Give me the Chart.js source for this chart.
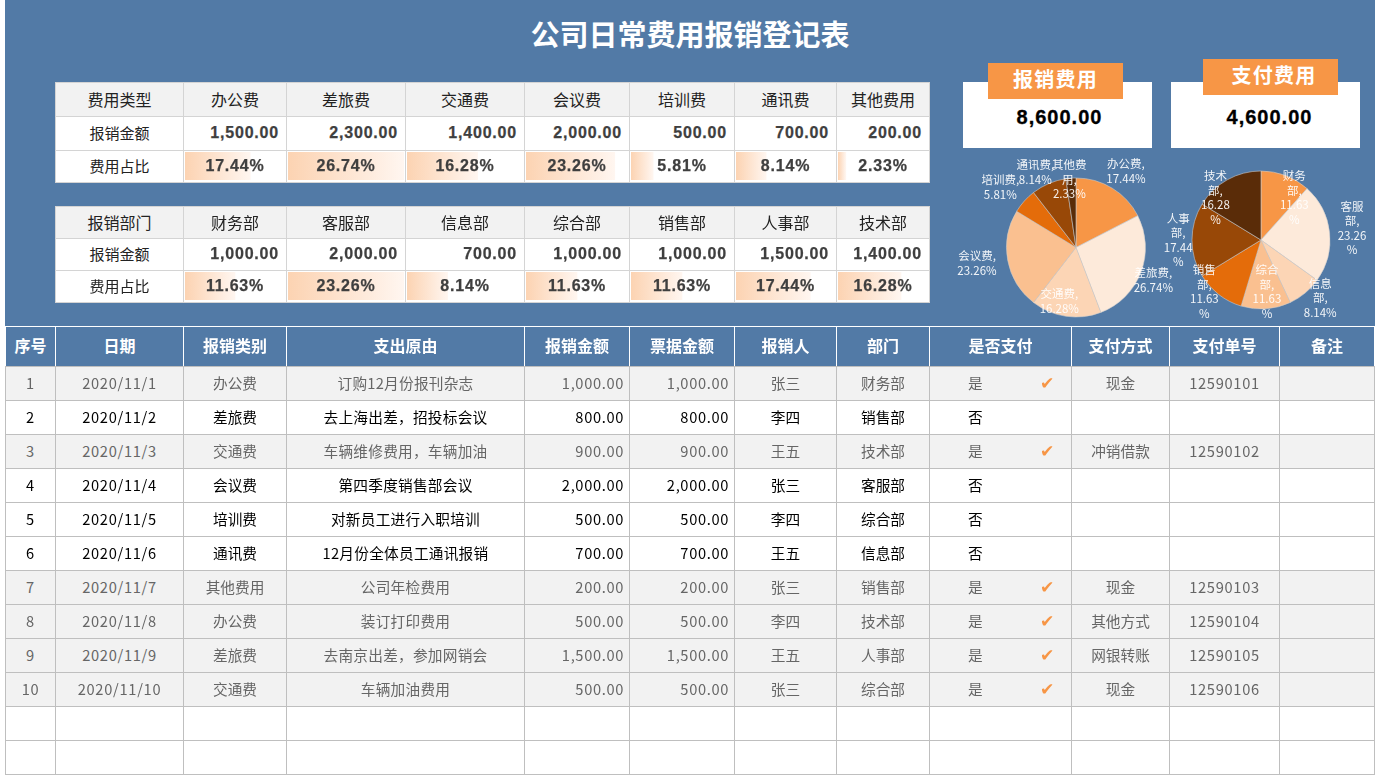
<!DOCTYPE html>
<html>
<head>
<meta charset="utf-8">
<title>公司日常费用报销登记表</title>
<script src="https://cdn.jsdelivr.net/npm/chart.js@4"></script>
<style>
  html, body { margin: 0; padding: 0; background: #fff; }
  body { width: 1376px; height: 775px; position: relative; overflow: hidden;
    font-family: "Noto Sans CJK SC", "Noto Sans", sans-serif; }
  #band { position: absolute; left: 5px; top: 0; width: 1370px; height: 326px; background: #527aa6; }
  #title { position: absolute; left: 5px; width: 1370px; top: 12px; text-align: center;
    color: #fff; font-size: 29px; font-weight: 700; line-height: 42px; }
  table { position: absolute; border-collapse: collapse; table-layout: fixed; }
  td { padding: 0; text-align: center; white-space: nowrap; overflow: hidden; box-sizing: border-box; }

  .sum { left: 55px; width: 874px; background: #fff; color: #222; font-size: 15px; }
  .sum td { border: 1px solid #d4d4d4; position: relative; padding-bottom: 2px; }
  .sum tr:first-child td, .sum td.head { background: #f2f2f2; font-size: 16px; }
  .sum td.head { font-size: 15.5px; }
  .sum td.rowname { font-size: 15px; background: #fff; padding-bottom: 3px; }
  .sum td.num, .sum td.pct { font-family: "Liberation Sans", Arial, sans-serif; font-weight: 700;
    font-size: 16px; letter-spacing: 0.8px; color: #3f3f3f; -webkit-text-stroke: 0.25px #3f3f3f; }
  .sum td.num { text-align: right; padding-right: 7px; }
  .sum td.pct { padding-bottom: 1px; }
  .sum td canvas { position: absolute; left: 0; top: 0; }
  .sum td span { position: relative; }

  #list { left: 5px; top: 326px; width: 1369px; font-size: 14.67px; }
  #list td { border: 1px solid #bfbfbf; height: 34px; position: relative; color: #000; padding-bottom: 2px; }
  #list tr.head td { height: 40px; background: #527aa6; color: #fff; font-size: 16px; font-weight: 700;
    border: 1px solid #fff; border-bottom-color: #bfbfbf; padding-bottom: 3px; }
  #list tr.paid td { background: #f2f2f2; color: #666; }
  #list td.digits { letter-spacing: 0.7px; }
  #list td.reason { letter-spacing: 0.25px; }
  #list td.money { text-align: right; padding-right: 5px; letter-spacing: 0.65px; }
  #list td.yes { text-align: left; padding-left: 38px; }
  #list td i { position: absolute; left: 110px; top: 6px; font-style: normal; font-weight: 700; color: #f79646;
    font-family: "DejaVu Sans", sans-serif; font-size: 17px; }

  .kpi { position: absolute; background: #fff; width: 189px; height: 66px; top: 82px; }
  .kpi b { display: block; position: absolute; left: 0; width: 100%; top: 20px; text-align: center; color: #000;
    font-family: "Liberation Sans", Arial, sans-serif; font-size: 20px; letter-spacing: 1px; line-height: 30px;
    -webkit-text-stroke: 0.3px #000; }
  .tab { position: absolute; background: #f79646; color: #fff; width: 135px; height: 36px; text-align: center;
    font-size: 20px; font-weight: 700; line-height: 31px; letter-spacing: 1.2px; }
  canvas.pie { position: absolute; }
</style>
</head>
<body>
<div id="band"></div>
<div id="title">公司日常费用报销登记表</div>

<table class="sum" id="sumType" style="top:82px"></table>
<table class="sum" id="sumDept" style="top:206px"></table>

<div class="kpi" style="left:963px"><b id="kpiClaim" style="left:2px"></b></div>
<div class="tab" style="left:988px;top:63px">报销费用</div>
<div class="kpi" style="left:1171px"><b id="kpiPaid" style="left:4px"></b></div>
<div class="tab" style="left:1203px;top:59px;text-indent:7px">支付费用</div>

<canvas class="pie" id="pieType" width="250" height="181" style="left:951px;top:157px"></canvas>
<canvas class="pie" id="pieDept" width="230" height="170" style="left:1146px;top:155px"></canvas>

<table id="list"></table>

<script>
// ==================== DATA =====================
const typeNames = ["办公费", "差旅费", "交通费", "会议费", "培训费", "通讯费", "其他费用"];
const typeAmounts = [1500, 2300, 1400, 2000, 500, 700, 200];
const typeShares = [17.44, 26.74, 16.28, 23.26, 5.81, 8.14, 2.33];
const typeLabelLines = [
  ["办公费,", "17.44%"], ["差旅费,", "26.74%"], ["交通费,", "16.28%"], ["会议费,", "23.26%"],
  ["培训费,", "5.81%"], ["通讯费,", "8.14%"], ["其他费", "用,", "2.33%"],
];

const deptNames = ["财务部", "客服部", "信息部", "综合部", "销售部", "人事部", "技术部"];
const deptAmounts = [1000, 2000, 700, 1000, 1000, 1500, 1400];
const deptShares = [11.63, 23.26, 8.14, 11.63, 11.63, 17.44, 16.28];
const deptLabelLines = [
  ["财务", "部,", "11.63", "%"], ["客服", "部,", "23.26", "%"], ["信息", "部,", "8.14%"], ["综合", "部,", "11.63", "%"],
  ["销售", "部,", "11.63", "%"], ["人事", "部,", "17.44", "%"], ["技术", "部,", "16.28", "%"],
];

const claimTotal = 8600;
const paidTotal = 4600;

const listHead = ["序号", "日期", "报销类别", "支出原由", "报销金额", "票据金额", "报销人", "部门", "是否支付", "支付方式", "支付单号", "备注"];
const listDates = ["2020/11/1", "2020/11/2", "2020/11/3", "2020/11/4", "2020/11/5", "2020/11/6", "2020/11/7", "2020/11/8", "2020/11/9", "2020/11/10"];
const listTypes = ["办公费", "差旅费", "交通费", "会议费", "培训费", "通讯费", "其他费用", "办公费", "差旅费", "交通费"];
const listReasons = ["订购12月份报刊杂志", "去上海出差，招投标会议", "车辆维修费用，车辆加油", "第四季度销售部会议", "对新员工进行入职培训", "12月份全体员工通讯报销", "公司年检费用", "装订打印费用", "去南京出差，参加网销会", "车辆加油费用"];
const listClaims = [1000, 800, 900, 2000, 500, 700, 200, 500, 1500, 500];
const listReceipts = [1000, 800, 900, 2000, 500, 700, 200, 500, 1500, 500];
const listPeople = ["张三", "李四", "王五", "张三", "李四", "王五", "张三", "李四", "王五", "张三"];
const listDepts = ["财务部", "销售部", "技术部", "客服部", "综合部", "信息部", "销售部", "技术部", "人事部", "综合部"];
const listPaid = ["是", "否", "是", "否", "否", "否", "是", "是", "是", "是"];
const listMethods = ["现金", "", "冲销借款", "", "", "", "现金", "其他方式", "网银转账", "现金"];
const listOrders = ["12590101", "", "12590102", "", "", "", "12590103", "12590104", "12590105", "12590106"];

const pieColors = ["#f79646", "#fdeada", "#fcd5b5", "#fac090", "#e46c0a", "#984807", "#5a2c08"];

// ============== LAYOUT =================
const sumCols = [128, 103, 119, 119, 105, 105, 102, 93];
const sumRowsType = [34, 34, 32];
const sumRowsDept = [32, 32, 32];
const listCols = [50, 128, 103, 238, 105, 105, 102, 93, 142, 98, 110, 95];
// label placement: radius factor and angle nudge (degrees) around each slice's mid angle
const typeLabelFit = [[1.316, 1.7], [1.208, 2], [0.805, 9], [1.442, 1.5], [1.393, -3.3], [1.235, -5.3], [0.983, -1.4]];
const deptLabelFit = [[0.78, 17.3], [1.33, -1.2], [1.2, -5.9], [0.754, -2.4], [1.112, 9.9], [1.2, 0], [0.9, -17.9]];

const money = (v) => v.toLocaleString("en-US", { minimumFractionDigits: 2, maximumFractionDigits: 2 });

function colgroup(widths) {
  return "<colgroup>" + widths.map((w) => `<col style="width:${w}px">`).join("") + "</colgroup>";
}

// ============== SUMMARY TABLES ===============
function renderSummary(id, headName, names, amounts, shares, rows) {
  const table = document.getElementById(id);
  let html = colgroup(sumCols);
  html += `<tr style="height:${rows[0]}px"><td class="head">${headName}</td>` + names.map((n) => `<td>${n}</td>`).join("") + "</tr>";
  html += `<tr style="height:${rows[1]}px"><td class="rowname">报销金额</td>` + amounts.map((a) => `<td class="num">${money(a)}</td>`).join("") + "</tr>";
  html += `<tr style="height:${rows[2]}px"><td class="rowname">费用占比</td>` + shares.map((s) => `<td class="pct"><canvas></canvas><span>${s.toFixed(2)}%</span></td>`).join("") + "</tr>";
  table.innerHTML = html;

  const maxShare = Math.max(...shares);
  table.querySelectorAll("td.pct canvas").forEach((canvas, i) => {
    const cell = canvas.parentElement;
    canvas.width = cell.clientWidth;
    canvas.height = cell.clientHeight - 1;
    renderShareBar(canvas, names[i], shares[i], maxShare);
  });
}

// each share cell is a tiny horizontal bar chart, scaled to the largest share in its table
function renderShareBar(canvas, name, share, maxShare) {
  new Chart(canvas, {
    type: "bar",
    data: {
      labels: [name],
      datasets: [{
        data: [share],
        barPercentage: 1,
        categoryPercentage: 1,
        borderWidth: 0,
        backgroundColor: (c) => {
          const area = c.chart.chartArea;
          if (!area) return "#fcd5b5";
          const end = c.chart.scales.x.getPixelForValue(share);
          const g = c.chart.ctx.createLinearGradient(area.left, 0, end, 0);
          g.addColorStop(0, "#fcd3b2");
          g.addColorStop(1, "#fff6f0");
          return g;
        },
      }],
    },
    options: {
      indexAxis: "y",
      responsive: false,
      animation: false,
      devicePixelRatio: 1,
      layout: { padding: { left: 1, right: 1, top: 1, bottom: 1 } },
      plugins: { legend: { display: false }, tooltip: { enabled: false } },
      scales: {
        x: { display: false, min: 0, max: maxShare },
        y: { display: false },
      },
    },
  });
}

// ============== PIE CHARTS ===============
const pieLabelsPlugin = {
  id: "pieLabels",
  afterDatasetsDraw(chart, args, opts) {
    const ctx = chart.ctx;
    const lineHeight = 14.5;
    ctx.save();
    ctx.font = '11.5px "Noto Sans CJK SC"';
    ctx.fillStyle = "rgba(255,255,255,0.92)";
    ctx.textAlign = "center";
    ctx.textBaseline = "middle";
    chart.getDatasetMeta(0).data.forEach((arc, i) => {
      const [factor, nudge] = opts.fit[i];
      const mid = (arc.startAngle + arc.endAngle) / 2 + (nudge * Math.PI) / 180;
      const x = arc.x + Math.cos(mid) * arc.outerRadius * factor;
      const y = arc.y + Math.sin(mid) * arc.outerRadius * factor;
      const lines = opts.lines[i];
      lines.forEach((line, k) => {
        ctx.fillText(line, x, y + (k - (lines.length - 1) / 2) * lineHeight);
      });
    });
    ctx.restore();
  },
};

function renderPie(id, names, amounts, lines, fit, radius) {
  new Chart(document.getElementById(id), {
    type: "pie",
    data: {
      labels: names,
      datasets: [{
        data: amounts,
        backgroundColor: pieColors,
        borderColor: "rgba(205,205,205,0.75)",
        borderWidth: 0.75,
        radius: radius,
      }],
    },
    options: {
      responsive: false,
      animation: false,
      devicePixelRatio: 1,
      layout: { padding: 0 },
      plugins: {
        legend: { display: false },
        tooltip: { enabled: false },
        pieLabels: { lines: lines, fit: fit },
      },
    },
    plugins: [pieLabelsPlugin],
  });
}

// ============== EXPENSE LIST ===============
function renderList() {
  let html = colgroup(listCols);
  html += '<tr class="head">' + listHead.map((h) => `<td>${h}</td>`).join("") + "</tr>";
  listDates.forEach((date, i) => {
    const isPaid = listPaid[i] === "是";
    html += `<tr class="${isPaid ? "paid" : ""}">
      <td class="digits">${i + 1}</td>
      <td class="digits">${date}</td>
      <td>${listTypes[i]}</td>
      <td class="reason">${listReasons[i]}</td>
      <td class="money">${money(listClaims[i])}</td>
      <td class="money">${money(listReceipts[i])}</td>
      <td>${listPeople[i]}</td>
      <td>${listDepts[i]}</td>
      <td class="yes">${listPaid[i]}${isPaid ? "<i>✔</i>" : ""}</td>
      <td>${listMethods[i]}</td>
      <td class="digits">${listOrders[i]}</td>
      <td></td>
    </tr>`;
  });
  // two blank rows at the bottom of the sheet
  for (let r = 0; r < 2; r++) {
    html += "<tr>" + listHead.map(() => "<td></td>").join("") + "</tr>";
  }
  document.getElementById("list").innerHTML = html;
}

// =========== INIT ================
document.getElementById("kpiClaim").textContent = money(claimTotal);
document.getElementById("kpiPaid").textContent = money(paidTotal);
renderSummary("sumType", "费用类型", typeNames, typeAmounts, typeShares, sumRowsType);
renderSummary("sumDept", "报销部门", deptNames, deptAmounts, deptShares, sumRowsDept);
renderPie("pieType", typeNames, typeAmounts, typeLabelLines, typeLabelFit, 69.5);
renderPie("pieDept", deptNames, deptAmounts, deptLabelLines, deptLabelFit, 69);
renderList();
</script>
</body>
</html>
